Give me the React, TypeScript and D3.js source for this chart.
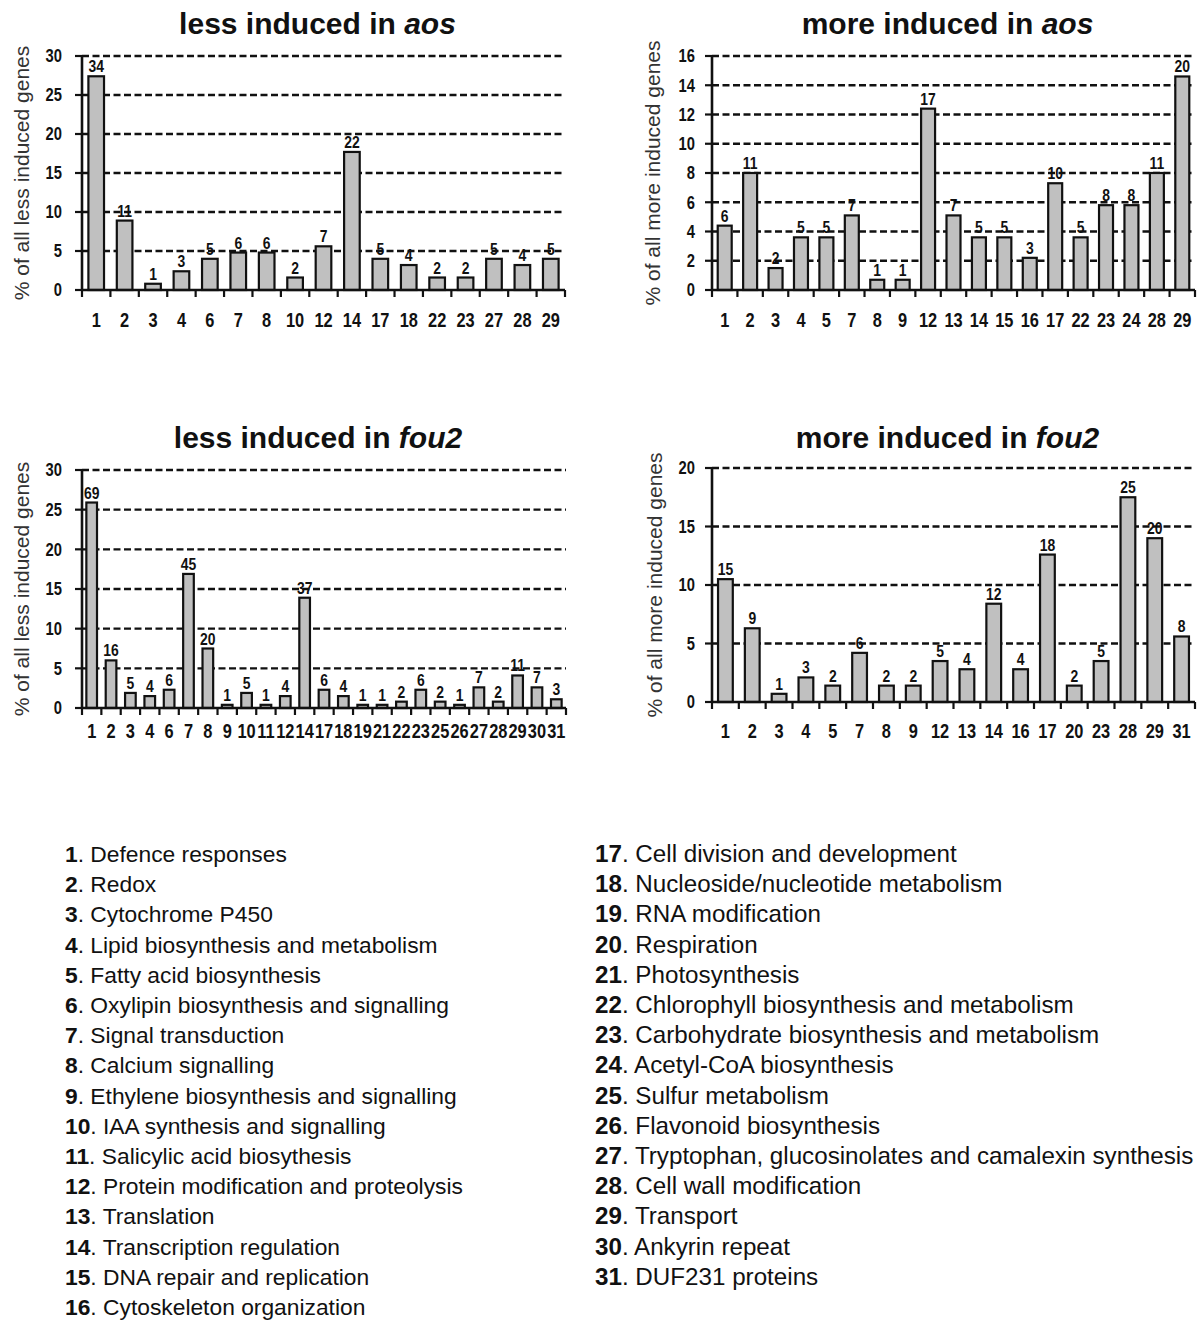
import React from "react";
import * as d3 from "d3";

// category numbers, percentages and gene counts
const aosLessCats = [1, 2, 3, 4, 6, 7, 8, 10, 12, 14, 17, 18, 22, 23, 27, 28, 29];
const aosLessPct = [27.4, 8.9, 0.8, 2.4, 4.0, 4.8, 4.8, 1.6, 5.6, 17.7, 4.0, 3.2, 1.6, 1.6, 4.0, 3.2, 4.0];
const aosLessN = [34, 11, 1, 3, 5, 6, 6, 2, 7, 22, 5, 4, 2, 2, 5, 4, 5];

const aosMoreCats = [1, 2, 3, 4, 5, 7, 8, 9, 12, 13, 14, 15, 16, 17, 22, 23, 24, 28, 29];
const aosMorePct = [4.4, 8.0, 1.5, 3.6, 3.6, 5.1, 0.7, 0.7, 12.4, 5.1, 3.6, 3.6, 2.2, 7.3, 3.6, 5.8, 5.8, 8.0, 14.6];
const aosMoreN = [6, 11, 2, 5, 5, 7, 1, 1, 17, 7, 5, 5, 3, 10, 5, 8, 8, 11, 20];

const fouLessCats = [1, 2, 3, 4, 6, 7, 8, 9, 10, 11, 12, 14, 17, 18, 19, 21, 22, 23, 25, 26, 27, 28, 29, 30, 31];
const fouLessPct = [25.9, 6.0, 1.9, 1.5, 2.3, 16.9, 7.5, 0.4, 1.9, 0.4, 1.5, 13.9, 2.3, 1.5, 0.4, 0.4, 0.8, 2.3, 0.8, 0.4, 2.6, 0.8, 4.1, 2.6, 1.1];
const fouLessN = [69, 16, 5, 4, 6, 45, 20, 1, 5, 1, 4, 37, 6, 4, 1, 1, 2, 6, 2, 1, 7, 2, 11, 7, 3];

const fouMoreCats = [1, 2, 3, 4, 5, 7, 8, 9, 12, 13, 14, 16, 17, 20, 23, 28, 29, 31];
const fouMorePct = [10.5, 6.3, 0.7, 2.1, 1.4, 4.2, 1.4, 1.4, 3.5, 2.8, 8.4, 2.8, 12.6, 1.4, 3.5, 17.5, 14.0, 5.6];
const fouMoreN = [15, 9, 1, 3, 2, 6, 2, 2, 5, 4, 12, 4, 18, 2, 5, 25, 20, 8];

const ticks30 = [0, 5, 10, 15, 20, 25, 30];
const ticks16 = [0, 2, 4, 6, 8, 10, 12, 14, 16];
const ticks20 = [0, 5, 10, 15, 20];

const legendLeft = [
  "Defence responses",
  "Redox",
  "Cytochrome P450",
  "Lipid biosynthesis and metabolism",
  "Fatty acid biosynthesis",
  "Oxylipin biosynthesis and signalling",
  "Signal transduction",
  "Calcium signalling",
  "Ethylene biosynthesis and signalling",
  "IAA synthesis and signalling",
  "Salicylic acid biosythesis",
  "Protein modification and proteolysis",
  "Translation",
  "Transcription regulation",
  "DNA repair and replication",
  "Cytoskeleton organization",
];
const legendRight = [
  "Cell division and development",
  "Nucleoside/nucleotide metabolism",
  "RNA modification",
  "Respiration",
  "Photosynthesis",
  "Chlorophyll biosynthesis and metabolism",
  "Carbohydrate biosynthesis and metabolism",
  "Acetyl-CoA biosynthesis",
  "Sulfur metabolism",
  "Flavonoid biosynthesis",
  "Tryptophan, glucosinolates and camalexin synthesis",
  "Cell wall modification",
  "Transport",
  "Ankyrin repeat",
  "DUF231 proteins",
];

const SANS = "'Liberation Sans', Arial, sans-serif";
const NARROW_X = 0.82; // squeeze for the condensed bold digits

interface PanelProps {
  cats: number[];
  pct: number[];
  counts: number[];
  yTicks: number[];
  left: number;
  right: number;
  top: number;
  bottom: number;
  title: string;
  titleItalic: string;
  titleY: number;
  yLabel: string;
  yLabelX: number;
  tickGap: number;
  xLabelDy: number;
}

const Narrow: React.FC<{ x: number; y: number; size: number; anchor: string; dy?: string; children: React.ReactNode }> = ({
  x,
  y,
  size,
  anchor,
  dy,
  children,
}) => (
  <text
    transform={`translate(${x},${y}) scale(${NARROW_X},1)`}
    textAnchor={anchor}
    dy={dy}
    fontFamily={SANS}
    fontWeight="bold"
    fontSize={size}
    fill="#111"
  >
    {children}
  </text>
);

const Panel: React.FC<PanelProps> = (p) => {
  const x = d3.scaleBand<number>().domain(p.cats).range([p.left, p.right]).padding(0);
  const y = d3
    .scaleLinear()
    .domain([0, d3.max(p.yTicks) as number])
    .range([p.bottom, p.top]);
  const step = x.step();
  const barW = step * 0.55;
  const boundaries = [...p.cats.map((c) => x(c) as number), p.right];
  const cx = (p.left + p.right) / 2;
  const cy = (p.top + p.bottom) / 2;

  return (
    <g>
      <text
        x={cx - 6}
        y={p.titleY}
        textAnchor="middle"
        fontFamily={SANS}
        fontWeight="bold"
        fontSize={30}
        fill="#111"
      >
        {p.title}
        <tspan fontStyle="italic">{p.titleItalic}</tspan>
      </text>

      {/* dashed gridlines */}
      {p.yTicks
        .filter((t) => t > 0)
        .map((t) => (
          <line
            key={`g${t}`}
            x1={p.left}
            x2={p.right}
            y1={y(t)}
            y2={y(t)}
            stroke="#111"
            strokeWidth={2.3}
            strokeDasharray="7,3.5"
          />
        ))}

      {/* bars */}
      {p.cats.map((c, i) => {
        const bx = (x(c) as number) + (step - barW) / 2;
        return (
          <g key={`b${c}`}>
            <rect
              x={bx}
              y={y(p.pct[i])}
              width={barW}
              height={y(0) - y(p.pct[i])}
              fill="#c0c0c0"
              stroke="#111"
              strokeWidth={2.2}
            />
            <Narrow x={bx + barW / 2} y={y(p.pct[i]) - 4} size={17} anchor="middle">
              {p.counts[i]}
            </Narrow>
          </g>
        );
      })}

      {/* y axis */}
      <line x1={p.left} x2={p.left} y1={p.top} y2={p.bottom} stroke="#111" strokeWidth={2.6} />
      {p.yTicks.map((t) => (
        <g key={`y${t}`}>
          <line x1={p.left - 7} x2={p.left} y1={y(t)} y2={y(t)} stroke="#111" strokeWidth={2.2} />
          <Narrow x={p.left - p.tickGap} y={y(t)} dy="0.36em" size={18} anchor="end">
            {t}
          </Narrow>
        </g>
      ))}

      {/* x axis */}
      <line x1={p.left} x2={p.right} y1={p.bottom} y2={p.bottom} stroke="#111" strokeWidth={2.6} />
      {boundaries.map((b, i) => (
        <line key={`xt${i}`} x1={b} x2={b} y1={p.bottom} y2={p.bottom + 7} stroke="#111" strokeWidth={2.2} />
      ))}
      {p.cats.map((c) => (
        <Narrow key={`xl${c}`} x={(x(c) as number) + step / 2} y={p.bottom + p.xLabelDy} size={20} anchor="middle">
          {c}
        </Narrow>
      ))}

      <text
        transform={`translate(${p.yLabelX},${cy}) rotate(-90)`}
        textAnchor="middle"
        dy="0.35em"
        fontFamily={SANS}
        fontSize={21}
        fill="#333"
      >
        {p.yLabel}
      </text>
    </g>
  );
};

const App: React.FC = () => {
  const rowStep = 30.2;
  return (
    <svg width={1203} height={1320} style={{ position: "absolute", left: 0, top: 0, background: "#fff" }}>
      <Panel
        cats={aosLessCats}
        pct={aosLessPct}
        counts={aosLessN}
        yTicks={ticks30}
        left={82}
        right={565}
        top={56}
        bottom={290}
        title="less induced in "
        titleItalic="aos"
        titleY={34}
        yLabel="% of all less induced genes"
        yLabelX={22}
        tickGap={20}
        xLabelDy={37}
      />
      <Panel
        cats={aosMoreCats}
        pct={aosMorePct}
        counts={aosMoreN}
        yTicks={ticks16}
        left={712}
        right={1195}
        top={56}
        bottom={290}
        title="more induced in "
        titleItalic="aos"
        titleY={34}
        yLabel="% of all more induced genes"
        yLabelX={653}
        tickGap={17}
        xLabelDy={37}
      />
      <Panel
        cats={fouLessCats}
        pct={fouLessPct}
        counts={fouLessN}
        yTicks={ticks30}
        left={82}
        right={566}
        top={470}
        bottom={708}
        title="less induced in "
        titleItalic="fou2"
        titleY={448}
        yLabel="% of all less induced genes"
        yLabelX={22}
        tickGap={20}
        xLabelDy={30}
      />
      <Panel
        cats={fouMoreCats}
        pct={fouMorePct}
        counts={fouMoreN}
        yTicks={ticks20}
        left={712}
        right={1195}
        top={468}
        bottom={702}
        title="more induced in "
        titleItalic="fou2"
        titleY={448}
        yLabel="% of all more induced genes"
        yLabelX={655}
        tickGap={17}
        xLabelDy={36}
      />

      {/* category legend */}
      {legendLeft.map((name, i) => (
        <text key={`ll${i}`} x={65} y={862 + i * rowStep} fontFamily={SANS} fontSize={22.8} fill="#111">
          <tspan fontWeight="bold">{i + 1}</tspan>. {name}
        </text>
      ))}
      {legendRight.map((name, i) => (
        <text key={`lr${i}`} x={595} y={862 + i * rowStep} fontFamily={SANS} fontSize={24.2} fill="#111">
          <tspan fontWeight="bold">{i + 17}</tspan>. {name}
        </text>
      ))}
    </svg>
  );
};

export default App;
